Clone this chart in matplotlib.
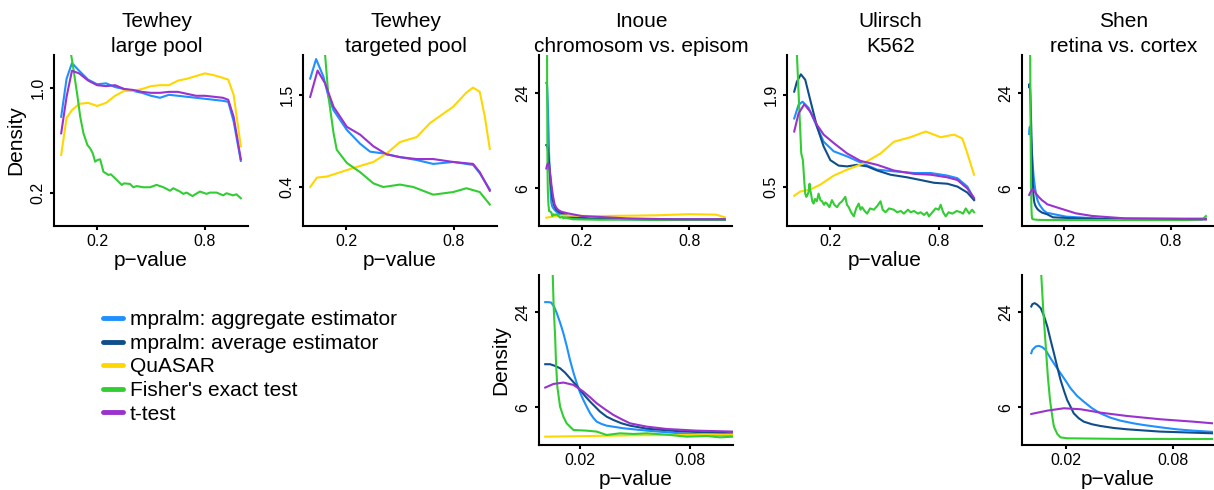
import numpy as np
import matplotlib
matplotlib.use("Agg")
import matplotlib.pyplot as plt
from matplotlib.lines import Line2D

plt.rcParams['font.family'] = ['Liberation Sans', 'DejaVu Sans']

methods = ["mpralm: aggregate estimator", "mpralm: average estimator",
           "QuASAR", "Fisher's exact test", "t-test"]
colors = ["#1E90FF", "#104E8B", "#FFD700", "#32CD32", "#9A32CD"]

# Tewhey large pool
tl_p = [0, .03, .06, .1, .15, .2, .25, .3, .35, .4, .45, .5, .55, .6, .65, .7,
        .75, .8, .85, .9, .93, .96, 1.0]
tl_agg = [0.72, 1.10, 1.28, 1.19, 1.09, 1.04, 1.05, 1.01, 0.99, 0.97, 0.95, 0.92,
          0.90, 0.93, 0.92, 0.91, 0.90, 0.89, 0.88, 0.87, 0.86, 0.68, 0.38]
tl_quasar = [0.42, 0.71, 0.78, 0.84, 0.85, 0.82, 0.85, 0.92, 0.97, 0.97, 0.99, 1.02,
             1.03, 1.03, 1.08, 1.10, 1.13, 1.16, 1.14, 1.11, 1.09, 0.93, 0.48]
tl_ttest = [0.58, 0.91, 1.19, 1.16, 1.08, 1.03, 1.02, 1.03, 0.99, 0.98, 0.96, 0.95,
            0.95, 0.96, 0.96, 0.94, 0.92, 0.92, 0.91, 0.90, 0.88, 0.72, 0.39]
tl_fisher_p = [.03, .054, .069, .091, .106, .124, .146, .161, .176, .189, .202, .217,
               .235, .263, .276, .291, .319, .337, .35, .383, .402, .42, .457, .494,
               .531, .569, .606, .624, .661, .68, .698, .731, .772, .809, .828, .865,
               .902, .92, .957, .976, 1.0]
tl_fisher = [1.70, 1.40, 1.20, 0.91, 0.72, 0.58, 0.49, 0.466, 0.43, 0.375, 0.386, 0.39,
             0.313, 0.294, 0.298, 0.284, 0.257, 0.240, 0.248, 0.245, 0.228, 0.234, 0.228,
             0.228, 0.240, 0.228, 0.211, 0.223, 0.207, 0.196, 0.202, 0.186, 0.207, 0.196,
             0.202, 0.202, 0.189, 0.199, 0.189, 0.194, 0.176]

# Tewhey targeted pool
tt_agg_p = [0, .033, .074, .102, .13, .204, .278, .333, .407, .5, .593, .685, .796,
            .907, .944, 1.0]
tt_agg = [1.77, 2.12, 1.80, 1.47, 1.27, 1.00, 0.83, 0.74, 0.72, 0.68, 0.65, 0.61,
          0.63, 0.60, 0.52, 0.38]
tt_quasar_p = [0, .037, .093, .204, .278, .352, .426, .5, .593, .667, .741, .796,
               .870, .907, .944, .972, 1.0]
tt_quasar = [0.40, 0.48, 0.49, 0.55, 0.59, 0.63, 0.72, 0.85, 0.91, 1.09, 1.22, 1.32,
             1.54, 1.62, 1.55, 1.18, 0.77]
tt_fisher_p = [.07, .083, .102, .13, .148, .204, .278, .352, .407, .5, .574, .685,
               .796, .870, .944, 1.0]
tt_fisher = [3.0, 2.2, 1.47, 0.96, 0.76, 0.62, 0.53, 0.43, 0.40, 0.42, 0.40, 0.34,
             0.36, 0.39, 0.36, 0.27]
tt_ttest_p = [0, .041, .083, .13, .204, .278, .352, .426, .5, .593, .685, .796,
              .907, .944, 1.0]
tt_ttest = [1.47, 1.91, 1.69, 1.32, 1.04, 0.94, 0.80, 0.71, 0.68, 0.66, 0.66, 0.63,
            0.61, 0.53, 0.37]

# Inoue chromosomal vs episomal
ino_agg_p = [.001, .0027, .0042, .0058, .0073, .0091, .0109, .0127, .0145, .0164,
             .0182, .02, .0218, .0236, .0255, .0273, .0291, .0318, .0345, .0436,
             .0564, .0745, .0927, .1033, .12, .25, .6, 1.0]
ino_agg = [26.6, 26.6, 26.5, 25.45, 23.75, 21.46, 18.99, 16.25, 13.47, 11.17, 9.41,
           7.99, 6.96, 6.08, 5.26, 4.72, 4.32, 4.07, 3.90, 3.64, 3.41, 3.16, 3.01,
           2.95, 2.86, 2.75, 2.70, 2.70]
ino_avg_p = [.001, .0036, .0064, .0091, .0118, .0145, .0173, .02, .0227, .0255, .0282,
             .0309, .0345, .0382, .0427, .0473, .0564, .0745, .0927, .1033, .13, .25,
             .6, 1.0]
ino_avg = [12.66, 12.66, 12.35, 11.93, 11.17, 10.22, 9.30, 8.39, 7.51, 6.73, 6.08,
           5.46, 4.87, 4.50, 4.14, 3.90, 3.60, 3.35, 3.22, 3.16, 2.95, 2.78, 2.70, 2.70]
ino_quasar_p = [.001, .05, .1, .25, .45, .62, .8, .95, 1.0]
ino_quasar = [2.86, 2.98, 3.05, 3.00, 3.03, 3.07, 3.17, 3.13, 2.89]
ino_fisher_p = [.001, .0045, .0051, .0056, .0064, .0069, .0076, .0091, .0109, .0127,
                .0164, .0236, .0291, .0345, .0418, .0491, .0564, .0673, .0782, .0891,
                .0964, .1033, .15, .3, .5, .7, .9, 1.0]
ino_fisher = [90, 45, 34.4, 25.45, 18.24, 12.84, 8.89, 6.08, 4.87, 4.14, 3.47, 3.41,
              3.32, 3.01, 3.16, 3.10, 3.16, 3.04, 2.86, 2.92, 2.80, 2.86, 2.72, 2.68,
              2.70, 2.66, 2.68, 2.68]
ino_ttest_p = [.001, .0055, .0109, .0164, .0218, .0255, .0291, .0336, .0382, .0427,
               .0473, .0564, .0673, .0836, .1033, .12, .2, .45, .7, 1.0]
ino_ttest = [8.74, 9.30, 9.52, 9.15, 8.14, 7.32, 6.51, 5.75, 5.07, 4.58, 4.14, 3.80,
             3.57, 3.41, 3.32, 3.25, 3.00, 2.80, 2.72, 2.72]

# Ulirsch K562
uli_agg_p = [0, .024, .046, .080, .117, .163, .219, .293, .367, .459, .552, .663,
             .756, .848, .904, .959, .996]
uli_agg = [1.45, 1.70, 1.76, 1.64, 1.37, 1.07, 0.93, 0.86, 0.78, 0.69, 0.67, 0.65,
           0.65, 0.62, 0.59, 0.50, 0.38]
uli_avg_p = [0, .015, .037, .061, .089, .126, .163, .2, .246, .293, .348, .404, .459,
             .533, .626, .7, .774, .848, .904, .959, .996]
uli_avg = [1.96, 2.17, 2.33, 2.21, 1.79, 1.31, 1.00, 0.81, 0.74, 0.73, 0.75, 0.73,
           0.68, 0.63, 0.60, 0.57, 0.54, 0.53, 0.50, 0.44, 0.37]
uli_quasar_p = [0, .033, .089, .144, .219, .293, .385, .478, .552, .644, .728, .811,
                .885, .931, .959, .996]
uli_quasar = [0.41, 0.45, 0.47, 0.52, 0.62, 0.69, 0.77, 0.90, 1.07, 1.14, 1.23, 1.14,
              1.18, 1.12, 0.90, 0.63]
uli_fisher_p = [.008, .015, .030, .039, .048, .056, .061, .067, .074, .080, .085, .089,
                .093, .100, .107, .115, .125, .135, .145, .154, .165, .173, .181, .195,
                .209, .222, .237, .25, .265, .283, .292, .302, .315, .33, .343, .357,
                .367, .376, .39, .404, .42, .441, .46, .478, .49, .506, .525, .552,
                .57, .59, .607, .63, .645, .663, .685, .7, .719, .735, .746, .765,
                .783, .8, .811, .825, .839, .855, .876, .9, .922, .935, .95, .969,
                .985, .996]
uli_fisher = [3.5, 2.78, 1.48, 0.90, 0.81, 0.55, 0.43, 0.40, 0.42, 0.45, 0.53, 0.46,
              0.43, 0.36, 0.34, 0.38, 0.36, 0.43, 0.37, 0.36, 0.33, 0.35, 0.34, 0.31,
              0.37, 0.33, 0.31, 0.34, 0.36, 0.40, 0.33, 0.31, 0.27, 0.24, 0.30, 0.34,
              0.29, 0.31, 0.28, 0.26, 0.30, 0.29, 0.32, 0.36, 0.29, 0.27, 0.30, 0.29,
              0.27, 0.28, 0.26, 0.29, 0.27, 0.28, 0.26, 0.27, 0.25, 0.27, 0.24, 0.27,
              0.30, 0.29, 0.33, 0.27, 0.24, 0.27, 0.26, 0.28, 0.27, 0.26, 0.30, 0.26,
              0.29, 0.27]
uli_ttest_p = [0, .024, .056, .089, .126, .163, .219, .293, .367, .459, .552, .663,
               .756, .848, .904, .959, .996]
uli_ttest = [1.23, 1.54, 1.71, 1.57, 1.34, 1.18, 1.05, 0.90, 0.80, 0.75, 0.68, 0.64,
             0.63, 0.60, 0.57, 0.48, 0.39]

# Shen retina vs cortex
shen_agg_p = [.0005, .0011, .003, .0048, .0067, .0085, .0113, .0141, .0169, .0197,
              .0225, .0262, .0299, .0346, .0392, .0448, .0504, .0578, .0634, .0727,
              .0819, .0912, .1024, .116, .209, .4, 1.0]
shen_agg = [14.76, 15.42, 16.11, 16.25, 15.97, 15.42, 13.78, 12.35, 11.06, 9.84, 8.64,
            7.51, 6.73, 5.87, 5.26, 4.76, 4.43, 4.14, 3.97, 3.74, 3.54, 3.41, 3.29,
            3.25, 2.95, 2.78, 2.78]
shen_avg_p = [.0005, .0011, .0024, .0039, .0058, .0076, .0095, .0113, .0132, .0151,
              .0169, .0188, .0206, .0225, .0243, .0271, .0299, .0346, .0392, .0466,
              .0541, .0727, .0912, .1024, .135, .264, .5, 1.0]
shen_avg = [25.45, 26.07, 26.33, 25.89, 25.02, 23.08, 20.51, 17.52, 14.76, 12.11, 9.95,
            8.29, 6.96, 6.08, 5.26, 4.69, 4.32, 4.04, 3.87, 3.67, 3.54, 3.32, 3.22, 3.16,
            2.89, 2.80, 2.72, 2.72]
shen_fisher_p = [.001, .004, .0061, .0072, .0085, .0098, .011, .0123, .0132, .0151,
                 .0169, .0206, .05, .1024, .3, .6, .9, .98, 1.0]
shen_fisher = [80, 50, 34.4, 24.6, 16.81, 10.49, 6.96, 4.87, 3.80, 3.10, 2.80, 2.72,
               2.67, 2.66, 2.66, 2.66, 2.66, 2.70, 3.00]
shen_ttest_p = [.0005, .0095, .0188, .0281, .0392, .0541, .0727, .0912, .1024, .172,
                .264, .356, .541, 1.0]
shen_ttest = [5.18, 5.58, 5.87, 5.75, 5.34, 4.95, 4.58, 4.32, 4.14, 3.74, 3.25, 3.01,
              2.80, 2.72]

W, H = 1214, 490
fig = plt.figure(figsize=(W / 100, H / 100), dpi=100)


def add_panel(x0, x1, y0, y1):
    return fig.add_axes([x0 / W, 1 - y1 / H, (x1 - x0) / W, (y1 - y0) / H])


def style(ax, curves, xlim, ylim, xticks, xlabels, yticks, ylabels):
    for idx, p, d in curves:
        ax.plot(p, d, color=colors[idx], lw=1.5, solid_joinstyle='round')
    ax.set_yscale('function', functions=(np.sqrt, np.square))
    ax.set_xlim(*xlim)
    ax.set_ylim(*ylim)
    ax.set_xticks(xticks)
    ax.set_xticklabels(xlabels)
    ax.set_yticks(yticks)
    ax.set_yticklabels(ylabels)
    ax.minorticks_off()
    for s in ['top', 'right']:
        ax.spines[s].set_visible(False)
    for s in ['left', 'bottom']:
        ax.spines[s].set_linewidth(1.5)
    ax.tick_params(length=3, width=1.5, labelsize=11.5, pad=3)
    for lbl in ax.get_yticklabels():
        lbl.set_rotation(90)
        lbl.set_va('center')


def title(x0, x1, line1, line2):
    xc = (x0 + x1) / 2 / W + 6 / W
    fig.text(xc, 1 - 27 / H, line1, ha='center', va='baseline', fontsize=15)
    fig.text(xc, 1 - 52.5 / H, line2, ha='center', va='baseline', fontsize=15)


top_x = (-0.04, 1.04)
top_ticks = [0.2, 0.8]
top_labels = ["0.2", "0.8"]

ax1 = add_panel(54, 248, 55, 226)
style(ax1, [(0, tl_p, tl_agg), (2, tl_p, tl_quasar), (3, tl_fisher_p, tl_fisher),
            (4, tl_p, tl_ttest)],
      top_x, (0.0748, 1.378), top_ticks, top_labels, [0.2, 1.0], ["0.2", "1.0"])
ax1.set_ylabel("Density", fontsize=15, labelpad=4)
ax1.set_xlabel("p\u2212value", fontsize=15, labelpad=1)
title(54, 248, "Tewhey", "large pool")

ax2 = add_panel(303, 497, 55, 226)
style(ax2, [(0, tt_agg_p, tt_agg), (2, tt_quasar_p, tt_quasar),
            (3, tt_fisher_p, tt_fisher), (4, tt_ttest_p, tt_ttest)],
      top_x, (0.1455, 2.197), top_ticks, top_labels, [0.4, 1.5], ["0.4", "1.5"])
ax2.set_xlabel("p\u2212value", fontsize=15, labelpad=1)
title(303, 497, "Tewhey", "targeted pool")

ino_curves = [(0, ino_agg_p, ino_agg), (1, ino_avg_p, ino_avg),
              (2, ino_quasar_p, ino_quasar), (3, ino_fisher_p, ino_fisher),
              (4, ino_ttest_p, ino_ttest)]
ax3 = add_panel(539, 732, 55, 226)
style(ax3, ino_curves, top_x, (2.18, 34.5), top_ticks, top_labels, [6, 24], ["6", "24"])
title(539, 732, "Inoue", "chromosom vs. episom")

ax4 = add_panel(787, 982, 55, 226)
style(ax4, [(0, uli_agg_p, uli_agg), (1, uli_avg_p, uli_avg),
            (2, uli_quasar_p, uli_quasar), (3, uli_fisher_p, uli_fisher),
            (4, uli_ttest_p, uli_ttest)],
      top_x, (0.176, 2.78), top_ticks, top_labels, [0.5, 1.9], ["0.5", "1.9"])
ax4.set_xlabel("p\u2212value", fontsize=15, labelpad=1)
title(787, 982, "Ulirsch", "K562")

shen_curves = [(0, shen_agg_p, shen_agg), (1, shen_avg_p, shen_avg),
               (3, shen_fisher_p, shen_fisher), (4, shen_ttest_p, shen_ttest)]
ax5 = add_panel(1022, 1213, 55, 226)
style(ax5, shen_curves, top_x, (2.18, 34.5), top_ticks, top_labels, [6, 24], ["6", "24"])
title(1022, 1213, "Shen", "retina vs. cortex")

# zoom on small p-values
ax6 = add_panel(539, 733, 275, 445)
style(ax6, ino_curves, (-0.0024, 0.1035), (2.18, 34.3), [0.02, 0.08], ["0.02", "0.08"],
      [6, 24], ["6", "24"])
ax6.set_ylabel("Density", fontsize=15, labelpad=4)
ax6.set_xlabel("p\u2212value", fontsize=15, labelpad=1)

ax7 = add_panel(1022, 1213, 275, 445)
style(ax7, shen_curves, (-0.0047, 0.1024), (2.18, 34.3), [0.02, 0.08], ["0.02", "0.08"],
      [6, 24], ["6", "24"])
ax7.set_xlabel("p\u2212value", fontsize=15, labelpad=1)

handles = [Line2D([], [], color=c, lw=3.5, solid_capstyle='round') for c in colors]
fig.legend(handles, methods, loc='center left', bbox_to_anchor=(103 / W, 1 - 367 / H),
           frameon=False, fontsize=15, handlelength=0.95, handletextpad=0.35,
           labelspacing=0.22, borderpad=0, borderaxespad=0)

fig.savefig("out.png", dpi=100)
